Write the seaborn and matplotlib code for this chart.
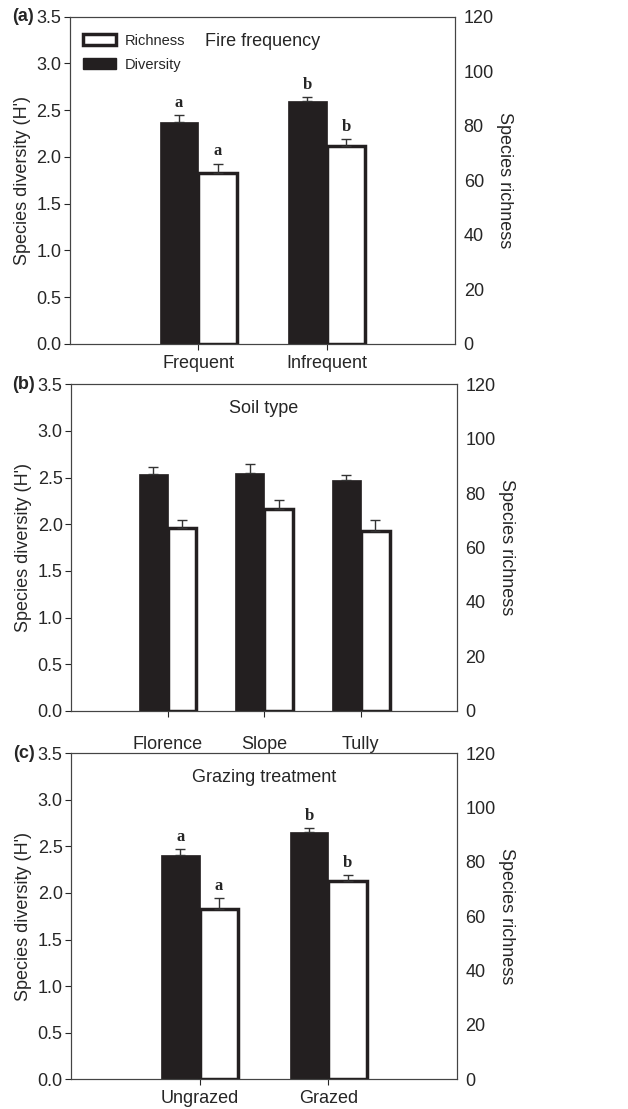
import matplotlib
matplotlib.use('Agg')
import matplotlib.pyplot as plt
from matplotlib.patches import Patch
import seaborn as sns
import pandas as pd

# Panel (a) fire frequency
fire_cats = ['Frequent', 'Infrequent']
fire_div = [2.37, 2.60]
fire_div_se = [0.08, 0.04]
fire_rich = [62.7, 72.7]
fire_rich_se = [3.4, 2.4]
fire_div_letters = ['a', 'b']
fire_rich_letters = ['a', 'b']

# Panel (b) soil type
soil_cats = ['Florence', 'Slope', 'Tully']
soil_div = [2.54, 2.55, 2.47]
soil_div_se = [0.07, 0.09, 0.06]
soil_rich = [67.0, 74.2, 65.9]
soil_rich_se = [3.0, 3.2, 4.1]

# Panel (c) grazing treatment
graz_cats = ['Ungrazed', 'Grazed']
graz_div = [2.41, 2.65]
graz_div_se = [0.06, 0.05]
graz_rich = [62.6, 72.8]
graz_rich_se = [4.0, 2.4]
graz_div_letters = ['a', 'b']
graz_rich_letters = ['a', 'b']

sns.set_style('ticks')
plt.rcParams['font.family'] = ['Liberation Sans', 'DejaVu Sans']

BLACK = '#231f20'
hue_order = ['Diversity', 'Richness']
pal = {'Diversity': BLACK, 'Richness': 'white'}


def draw_panel(fig, rect, tag, title, cats, div, div_se, rich, rich_se,
               div_letters=None, rich_letters=None, legend=False, xlabpad=4):
    ax = fig.add_axes(rect)
    ax2 = ax.twinx()

    df_div = pd.DataFrame({'cat': cats, 'val': div, 'series': 'Diversity'})
    df_rich = pd.DataFrame({'cat': cats, 'val': rich, 'series': 'Richness'})

    sns.barplot(data=df_div, x='cat', y='val', hue='series', hue_order=hue_order,
                order=cats, palette=pal, width=0.6, dodge=True, errorbar=None,
                legend=False, ax=ax, edgecolor=BLACK, linewidth=0.5, saturation=1)
    sns.barplot(data=df_rich, x='cat', y='val', hue='series', hue_order=hue_order,
                order=cats, palette=pal, width=0.6, dodge=True, errorbar=None,
                legend=False, ax=ax2, edgecolor=BLACK, linewidth=2.5, saturation=1)

    # error bars (upper half only) placed on the drawn bars
    for a, se, letters in [(ax, div_se, div_letters), (ax2, rich_se, rich_letters)]:
        bars = [p for p in a.patches if p.get_height() > 0]
        xs = [p.get_x() + p.get_width() / 2 for p in bars]
        ys = [p.get_height() for p in bars]
        a.errorbar(xs, ys, yerr=[[0] * len(se), se], fmt='none', ecolor='#333333',
                   elinewidth=1, capsize=3.5, capthick=1, zorder=5)
        if letters:
            for x, y, s, lab in zip(xs, ys, se, letters):
                a.annotate(lab, (x, y + s), xytext=(0, 3), textcoords='offset points',
                           ha='center', va='bottom', fontsize=12, fontweight='bold',
                           family='Liberation Serif')

    ax.set_xlim(-1, len(cats))
    ax.set_ylim(0, 3.5)
    ax.set_yticks([0, 0.5, 1.0, 1.5, 2.0, 2.5, 3.0, 3.5])
    ax.set_yticklabels(['0.0', '0.5', '1.0', '1.5', '2.0', '2.5', '3.0', '3.5'])
    ax2.set_ylim(0, 120)
    ax2.set_yticks([0, 20, 40, 60, 80, 100, 120])

    ax.set_xlabel('')
    ax.set_ylabel("Species diversity (H')", fontsize=13, labelpad=4)
    ax2.set_xlabel('')
    ax2.set_ylabel('Species richness', fontsize=13, rotation=270, labelpad=14)

    ax.tick_params(axis='y', labelsize=13, length=4, width=0.8, direction='out', pad=2)
    ax.tick_params(axis='x', labelsize=13, length=4, width=0.8, direction='out', pad=xlabpad)
    ax2.tick_params(axis='y', labelsize=13, length=0, pad=6)

    for a in (ax, ax2):
        for sp in a.spines.values():
            sp.set_visible(True)
            sp.set_linewidth(0.8)
            sp.set_color('#444444')

    ax.text(0.5, 0.925, title, transform=ax.transAxes, ha='center', va='center',
            fontsize=13)
    ax.text(-0.122, 1.0, tag, transform=ax.transAxes, ha='center', va='center',
            fontsize=13, fontweight='bold')

    if legend:
        handles = [Patch(facecolor='white', edgecolor=BLACK, linewidth=2.5, label='Richness'),
                   Patch(facecolor=BLACK, edgecolor=BLACK, label='Diversity')]
        ax2.legend(handles=handles, loc='upper left', bbox_to_anchor=(0.034, 0.948),
                   frameon=False, fontsize=10.5, handlelength=2.3, handleheight=0.8,
                   labelspacing=0.7, handletextpad=0.6, borderpad=0, borderaxespad=0)
    return ax, ax2


fig = plt.figure(figsize=(6.28, 11.09), dpi=100)

draw_panel(fig, [0.111, 0.690, 0.614, 0.295], '(a)', 'Fire frequency',
           fire_cats, fire_div, fire_div_se, fire_rich, fire_rich_se,
           fire_div_letters, fire_rich_letters, legend=True)
draw_panel(fig, [0.113, 0.359, 0.615, 0.2946], '(b)', 'Soil type',
           soil_cats, soil_div, soil_div_se, soil_rich, soil_rich_se, xlabpad=14)
draw_panel(fig, [0.113, 0.0268, 0.615, 0.294], '(c)', 'Grazing treatment',
           graz_cats, graz_div, graz_div_se, graz_rich, graz_rich_se,
           graz_div_letters, graz_rich_letters)

fig.savefig('out.png', dpi=100)
